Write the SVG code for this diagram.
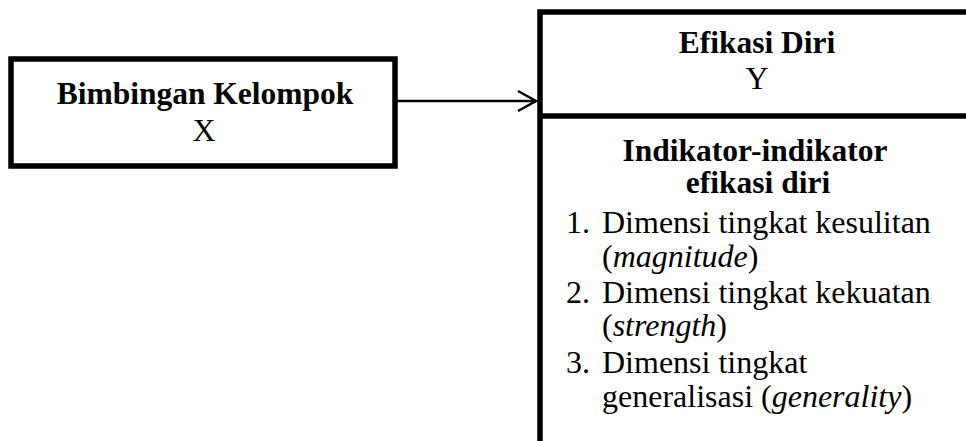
<svg xmlns="http://www.w3.org/2000/svg" width="966" height="441" viewBox="0 0 966 441">
<style>
.box{fill:#fff;stroke:#000;stroke-width:5.5}
.t{font-family:"Liberation Serif","Times New Roman",serif;font-size:32px;fill:#000}
.b{font-weight:bold;font-size:31.5px}
.c{text-anchor:middle}
.conn{stroke:#000;stroke-width:2.5;fill:none}
</style>
<rect width="966" height="441" fill="#fff"/>
<g id="node-x">
<rect class="box" x="11" y="59" width="384" height="107"/>
<text class="t b c" x="205" y="104">Bimbingan Kelompok</text>
<text class="t c" x="204" y="141">X</text>
</g>
<g id="node-y">
<rect class="box" x="540" y="12" width="436" height="450"/>
<line x1="540" y1="116" x2="976" y2="116" stroke="#000" stroke-width="5.5"/>
<text class="t b c" x="757" y="53">Efikasi Diri</text>
<text class="t c" x="757" y="89">Y</text>
<text class="t b c" x="755" y="161">Indikator-indikator</text>
<text class="t b c" x="758" y="193">efikasi diri</text>
<text class="t" x="566" y="233">1.</text>
<text class="t" x="602" y="233">Dimensi tingkat kesulitan</text>
<text class="t" x="602" y="267">(<tspan font-style="italic">magnitude</tspan>)</text>
<text class="t" x="566" y="303">2.</text>
<text class="t" x="602" y="303">Dimensi tingkat kekuatan</text>
<text class="t" x="602" y="336">(<tspan font-style="italic">strength</tspan>)</text>
<text class="t" x="566" y="373">3.</text>
<text class="t" x="602" y="373">Dimensi tingkat</text>
<text class="t" x="602" y="407">generalisasi (<tspan font-style="italic">generality</tspan>)</text>
</g>
<g id="connectors">
<line class="conn" x1="397" y1="101" x2="536" y2="101"/>
<polyline class="conn" points="518,91 536,101 518,111"/>
</g>
</svg>
